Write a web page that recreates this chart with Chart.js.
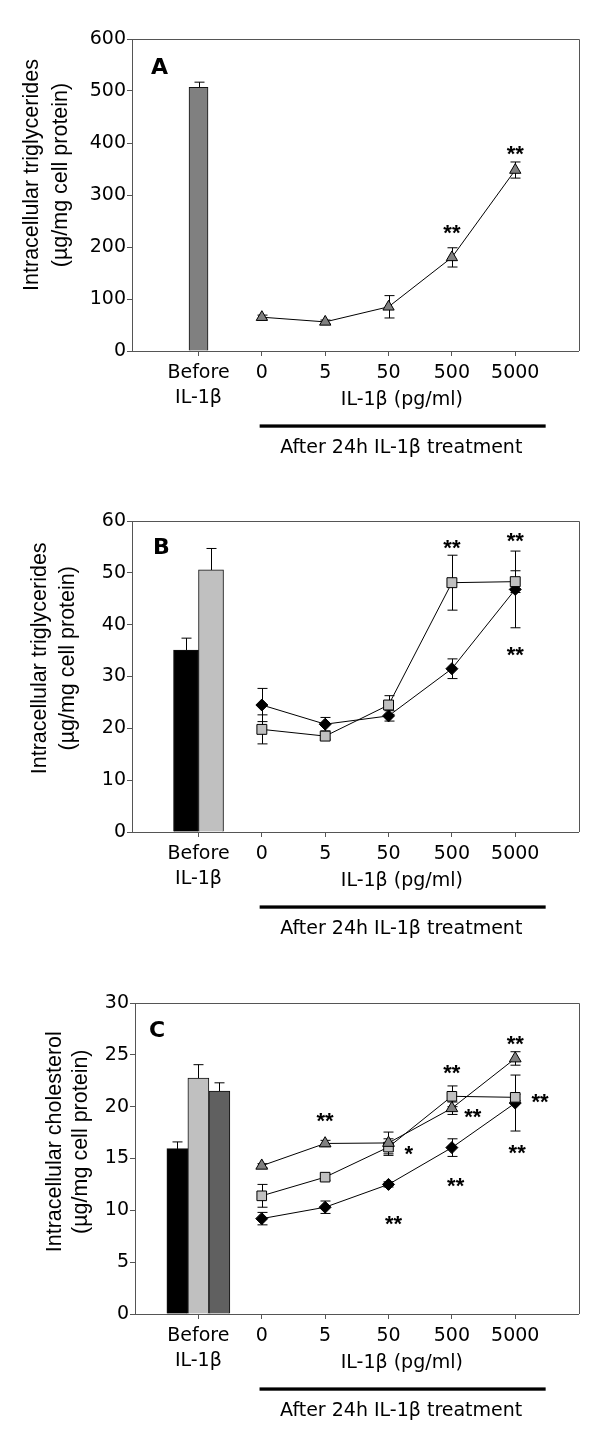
<!DOCTYPE html>
<html>
<head>
<meta charset="utf-8">
<script src="https://cdn.jsdelivr.net/npm/chart.js@4.4.1/dist/chart.umd.min.js"></script>
<style>
  html, body { margin: 0; padding: 0; background: #fff; overflow: hidden; }
  canvas { display: block; }
</style>
</head>
<body>
<canvas id="chartA" width="600" height="482"></canvas>
<canvas id="chartB" width="600" height="482"></canvas>
<canvas id="chartC" width="600" height="477"></canvas>
<script>
// shared x categories (0 = before treatment, 1..5 = IL-1β doses)
const xLabels = [['Before', 'IL-1β'], '0', '5', '50', '500', '5000']
const doseX = [1, 2, 3, 4, 5]

// A: triglycerides, one cell type
const barA = [507]
const barErrA = [10]
const triA = [65, 56, 85, 180, 348]
const triErrA = [4, 3.5, 21.5, 18.5, 15.5]
const starsA = [[4, 237, '**'], [5, 389, '**']]

// B: triglycerides, two cell types
const barB = [35.1, 50.6]
const barErrB = [2.3, 4.1]
const diaB = [24.5, 20.8, 22.4, 31.5, 46.8]
const diaErrB = [3.2, 1.3, 1.0, 1.9, 7.4]
const sqB = [19.8, 18.5, 24.5, 48.1, 48.3]
const sqErrB = [2.8, 0.6, 1.8, 5.3, 2.1]
const starsB = [[4, 55.8, '**'], [5, 57.1, '**'], [5, 35.1, '**']]

// C: cholesterol, three cell types
const barC = [15.95, 22.75, 21.5]
const barErrC = [0.65, 1.3, 0.8]
const triC = [14.3, 16.45, 16.5, 19.85, 24.65]
const triErrC = [0.2, 0.3, 1.05, 0.6, 0.65]
const sqC = [11.4, 13.2, 16.1, 21.0, 20.9]
const sqErrC = [1.1, 0.3, 0.8, 1.0, 0.3]
const diaC = [9.2, 10.3, 12.5, 16.05, 20.35]
const diaErrC = [0.6, 0.6, 0.25, 0.85, 2.7]
const starsC = [
  [2, 19.15, '**'], [3.32, 15.9, '*'], [3.08, 9.24, '**'],
  [4, 23.78, '**'], [4.33, 19.53, '**'], [4.06, 12.87, '**'],
  [5, 26.58, '**'], [5.39, 20.98, '**'], [5.03, 16.0, '**']
]

const AXIS = '#555'
const TICK_FONT = { family: 'DejaVu Sans', size: 19, lineHeight: 1.34 }

// error bars, frame and all the loose text around each panel
const extras = {
  id: 'extras',
  beforeDatasetsDraw(chart) {
    const { ctx, scales: { y } } = chart
    ctx.save()
    ctx.strokeStyle = '#000'
    ctx.lineWidth = 1
    chart.data.datasets.forEach((ds, i) => {
      if (!ds.errors) return
      chart.getDatasetMeta(i).data.forEach((el, j) => {
        const v = ds.data[j].y
        const px = Math.round(el.x) + 0.5
        const top = y.getPixelForValue(v + ds.errors[j])
        const bot = y.getPixelForValue(v - ds.errors[j])
        ctx.beginPath()
        ctx.moveTo(px, top); ctx.lineTo(px, bot)
        ctx.moveTo(px - 5, top); ctx.lineTo(px + 5, top)
        ctx.moveTo(px - 5, bot); ctx.lineTo(px + 5, bot)
        ctx.stroke()
      })
    })
    ctx.restore()
  },
  afterDraw(chart, args, o) {
    const { ctx, chartArea: a, scales: { x, y } } = chart
    ctx.save()

    // top and right edges of the box
    ctx.strokeStyle = AXIS
    ctx.lineWidth = 1
    ctx.beginPath()
    ctx.moveTo(Math.round(a.left), Math.round(a.top) + 0.5)
    ctx.lineTo(Math.round(a.right) + 0.5, Math.round(a.top) + 0.5)
    ctx.lineTo(Math.round(a.right) + 0.5, Math.round(a.bottom))
    ctx.stroke()

    ctx.fillStyle = '#000'

    // panel letter
    ctx.font = 'bold 22px "DejaVu Sans"'
    ctx.textAlign = 'left'
    ctx.textBaseline = 'alphabetic'
    ctx.fillText(o.letter, o.letterX, o.letterY)

    // significance stars
    ctx.font = 'bold 22px "Liberation Sans"'
    ctx.textAlign = 'center'
    o.stars.forEach(([sx, sy, t]) => {
      ctx.fillText(t, x.getPixelForValue(sx), y.getPixelForValue(sy) + 12.3)
    })

    // y title, two rotated lines
    ctx.font = '21.5px "Liberation Sans"'
    o.title.forEach((line, i) => {
      ctx.save()
      ctx.translate(o.titleX[i], o.titleY)
      ctx.rotate(-Math.PI / 2)
      ctx.fillText(line, 0, 0)
      ctx.restore()
    })

    // dose label, treatment bar and caption
    ctx.font = '19px "DejaVu Sans"'
    ctx.fillText('IL-1β (pg/ml)', x.getPixelForValue(3.21), a.bottom + 54.3)
    const x0 = x.getPixelForValue(0.965)
    const x1 = x.getPixelForValue(5.48)
    ctx.fillRect(x0, a.bottom + 73.4, x1 - x0, 3.3)
    ctx.fillText('After 24h IL-1β treatment', x.getPixelForValue(3.2), a.bottom + 102)

    ctx.restore()
  }
}

function lineSet(values, errors, style, radius, color) {
  return {
    type: 'line',
    data: doseX.map((xv, i) => ({ x: xv, y: values[i] })),
    errors: errors,
    borderColor: '#000',
    borderWidth: 1,
    tension: 0,
    pointStyle: style,
    pointRadius: radius,
    pointBackgroundColor: color,
    pointBorderColor: '#000',
    pointBorderWidth: 1
  }
}

function barSet(value, error, color, width) {
  return {
    type: 'bar',
    data: [{ x: 0, y: value }],
    errors: [error],
    backgroundColor: color,
    borderColor: '#111',
    borderWidth: 1,
    borderSkipped: 'bottom',
    barThickness: width
  }
}

function makePanel(id, datasets, p) {
  new Chart(document.getElementById(id), {
    type: 'line',
    data: { datasets: datasets },
    options: {
      responsive: false,
      animation: false,
      events: [],
      devicePixelRatio: 1,
      layout: { padding: { top: 39, right: 21.4, left: 0, bottom: 0 } },
      plugins: {
        legend: { display: false },
        tooltip: { enabled: false },
        extras: p
      },
      scales: {
        x: {
          type: 'linear',
          min: p.xMin,
          max: 6,
          offset: false,
          afterBuildTicks: (s) => { s.ticks = xLabels.map((_, i) => ({ value: i })) },
          afterFit: (s) => { s.height = p.xAxisH },
          grid: { drawOnChartArea: false, drawTicks: true, tickLength: 5, color: AXIS, offset: false },
          border: { display: true, color: AXIS, width: 1 },
          ticks: {
            autoSkip: false,
            maxRotation: 0,
            padding: 4,
            color: '#000',
            font: TICK_FONT,
            callback: (v) => xLabels[v]
          }
        },
        y: {
          min: 0,
          max: p.yMax,
          afterFit: (s) => { s.width = p.left },
          grid: { drawOnChartArea: false, drawTicks: true, tickLength: 5, color: AXIS },
          border: { display: true, color: AXIS, width: 1 },
          ticks: { stepSize: p.yStep, padding: 1, color: '#000', font: TICK_FONT }
        }
      }
    },
    plugins: [extras]
  })
}

makePanel('chartA', [
  lineSet(triA, triErrA, 'triangle', 6.5, '#808080'),
  barSet(barA[0], barErrA[0], '#808080', 19)
], {
  letter: 'A', letterX: 151, letterY: 74.3,
  stars: starsA,
  title: ['Intracellular triglycerides', '(µg/mg cell protein)'],
  titleX: [37.5, 67.2], titleY: 175,
  xMin: -1.05, left: 132, xAxisH: 131, yMax: 600, yStep: 100
})

makePanel('chartB', [
  lineSet(sqB, sqErrB, 'rect', 7, '#c0c0c0'),
  lineSet(diaB, diaErrB, 'rectRot', 6, '#000'),
  barSet(barB[0], barErrB[0], '#000', 25),
  barSet(barB[1], barErrB[1], '#c0c0c0', 25)
], {
  letter: 'B', letterX: 153, letterY: 71.5,
  stars: starsB,
  title: ['Intracellular triglycerides', '(µg/mg cell protein)'],
  titleX: [45.5, 73.8], titleY: 176.3,
  xMin: -1.05, left: 132, xAxisH: 132, yMax: 60, yStep: 10
})

makePanel('chartC', [
  lineSet(triC, triErrC, 'triangle', 6.8, '#808080'),
  lineSet(sqC, sqErrC, 'rect', 6.8, '#c0c0c0'),
  lineSet(diaC, diaErrC, 'rectRot', 6, '#000'),
  barSet(barC[0], barErrC[0], '#000', 21),
  barSet(barC[1], barErrC[1], '#c0c0c0', 21),
  barSet(barC[2], barErrC[2], '#606060', 21)
], {
  letter: 'C', letterX: 149, letterY: 73.3,
  stars: starsC,
  title: ['Intracellular cholesterol', '(µg/mg cell protein)'],
  titleX: [60.5, 87.2], titleY: 177.7,
  xMin: -1.0, left: 135, xAxisH: 127, yMax: 30, yStep: 5
})
</script>
</body>
</html>
